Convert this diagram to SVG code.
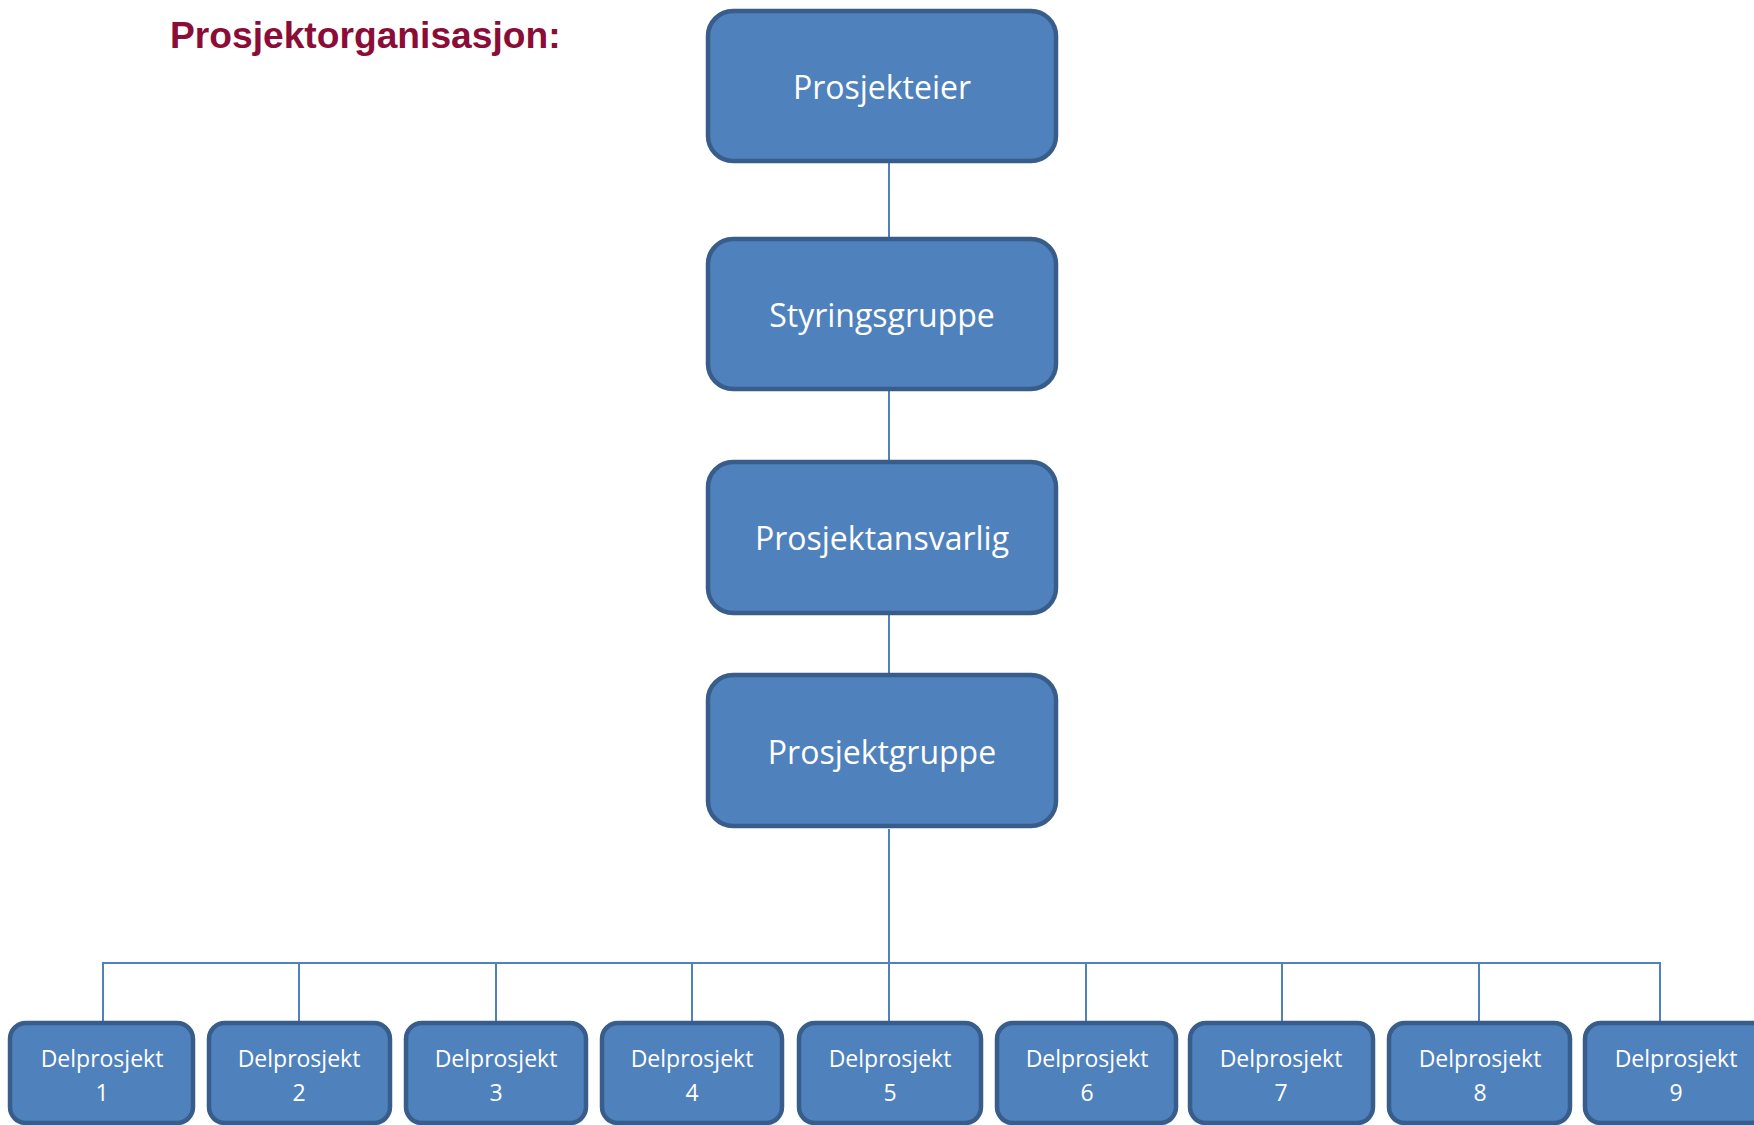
<svg xmlns="http://www.w3.org/2000/svg" width="1754" height="1125" viewBox="0 0 1754 1125">
<style>
.big rect{fill:#4F81BD;stroke:#385D8A;stroke-width:4.5}
.big text{font-family:"Open Sans","DejaVu Sans",sans-serif;font-size:32px;fill:#FFFFFF;text-anchor:middle}
.sm rect{fill:#4F81BD;stroke:#385D8A;stroke-width:4.5}
.sm text{font-family:"Open Sans","DejaVu Sans",sans-serif;font-size:23px;fill:#FFFFFF;text-anchor:middle}
#connectors line{stroke:#4F81BD;stroke-width:2}
</style>
<rect width="1754" height="1125" fill="#FFFFFF"/>
<text id="title" x="170" y="48" font-family="'Liberation Sans',Arial,sans-serif" font-weight="bold" font-size="37.2" fill="#8B0D37">Prosjektorganisasjon:</text>
<g id="connectors">
<line x1="889" y1="163" x2="889" y2="237"/>
<line x1="889" y1="391" x2="889" y2="460"/>
<line x1="889" y1="615" x2="889" y2="673"/>
<line x1="889" y1="829" x2="889" y2="1021"/>
<line x1="103" y1="963" x2="1661" y2="963"/>
<line x1="103" y1="962" x2="103" y2="1021"/>
<line x1="299" y1="963" x2="299" y2="1021"/>
<line x1="496" y1="963" x2="496" y2="1021"/>
<line x1="692" y1="963" x2="692" y2="1021"/>
<line x1="1086" y1="963" x2="1086" y2="1021"/>
<line x1="1282" y1="963" x2="1282" y2="1021"/>
<line x1="1479" y1="963" x2="1479" y2="1021"/>
<line x1="1660" y1="962" x2="1660" y2="1021"/>
</g>
<g id="prosjekteier" class="big"><rect x="708" y="11" width="348" height="150" rx="25"/><text x="882" y="99">Prosjekteier</text></g>
<g id="styringsgruppe" class="big"><rect x="708" y="239" width="348" height="150" rx="25"/><text x="882" y="327">Styringsgruppe</text></g>
<g id="prosjektansvarlig" class="big"><rect x="708" y="462" width="348" height="151" rx="25"/><text x="882" y="550">Prosjektansvarlig</text></g>
<g id="prosjektgruppe" class="big"><rect x="708" y="675" width="348" height="151" rx="25"/><text x="882" y="764">Prosjektgruppe</text></g>
<g id="delprosjekt1" class="sm"><rect x="10" y="1023" width="183" height="100" rx="16"/><text x="102" y="1067">Delprosjekt</text><text x="102" y="1101">1</text></g>
<g id="delprosjekt2" class="sm"><rect x="209" y="1023" width="181" height="100" rx="16"/><text x="299" y="1067">Delprosjekt</text><text x="299" y="1101">2</text></g>
<g id="delprosjekt3" class="sm"><rect x="406" y="1023" width="180" height="100" rx="16"/><text x="496" y="1067">Delprosjekt</text><text x="496" y="1101">3</text></g>
<g id="delprosjekt4" class="sm"><rect x="602" y="1023" width="180" height="100" rx="16"/><text x="692" y="1067">Delprosjekt</text><text x="692" y="1101">4</text></g>
<g id="delprosjekt5" class="sm"><rect x="799" y="1023" width="182" height="100" rx="16"/><text x="890" y="1067">Delprosjekt</text><text x="890" y="1101">5</text></g>
<g id="delprosjekt6" class="sm"><rect x="997" y="1023" width="179" height="100" rx="16"/><text x="1087" y="1067">Delprosjekt</text><text x="1087" y="1101">6</text></g>
<g id="delprosjekt7" class="sm"><rect x="1190" y="1023" width="183" height="100" rx="16"/><text x="1281" y="1067">Delprosjekt</text><text x="1281" y="1101">7</text></g>
<g id="delprosjekt8" class="sm"><rect x="1389" y="1023" width="181" height="100" rx="16"/><text x="1480" y="1067">Delprosjekt</text><text x="1480" y="1101">8</text></g>
<g id="delprosjekt9" class="sm"><rect x="1585" y="1023" width="183" height="100" rx="16"/><text x="1676" y="1067">Delprosjekt</text><text x="1676" y="1101">9</text></g>
</svg>
